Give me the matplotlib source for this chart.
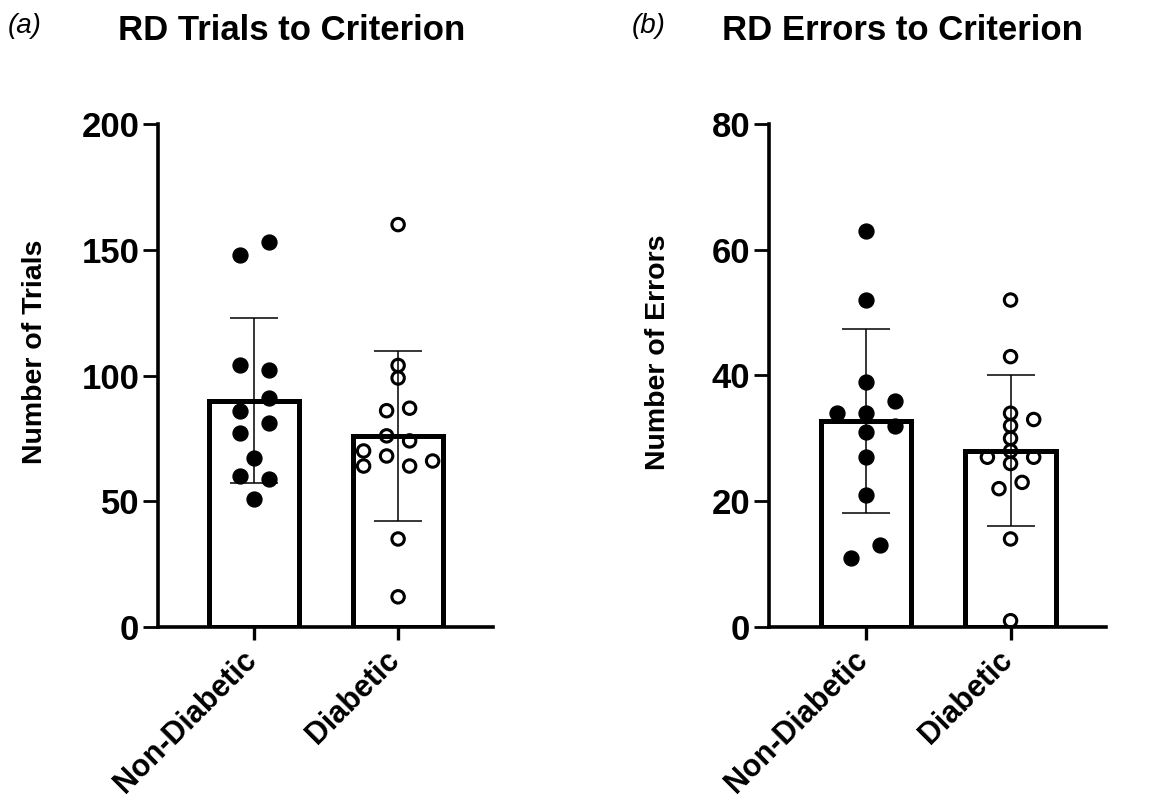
import numpy as np
import matplotlib
matplotlib.use("Agg")
import matplotlib.pyplot as plt
import matplotlib.transforms as mtransforms

plt.rcParams["font.family"] = ["Liberation Sans", "DejaVu Sans"]

groups = ["Non-Diabetic", "Diabetic"]

# (a) trials to criterion, individual animals
trials_nondiab = [148, 153, 104, 102, 91, 86, 81, 77, 67, 60, 59, 51]
trials_diab = [160, 104, 99, 86, 87, 76, 74, 70, 64, 68, 64, 66, 35, 12]

# (b) errors to criterion
errors_nondiab = [63, 52, 39, 36, 34, 34, 32, 31, 27, 21, 13, 11]
errors_diab = [52, 43, 34, 33, 32, 30, 28, 27, 27, 26, 23, 22, 14, 1]

# horizontal scatter of the dots around each bar centre (category units)
jit_trials_nondiab = [-0.1, 0.1, -0.1, 0.1, 0.1, -0.1, 0.1, -0.1, 0, -0.1, 0.1, 0]
jit_trials_diab = [0, 0, 0, -0.08, 0.08, -0.08, 0.08, -0.24, -0.24, -0.08, 0.08, 0.24, 0, 0]
jit_errors_nondiab = [0, 0, 0, 0.2, -0.2, 0, 0.2, 0, 0, 0, 0.1, -0.1]
jit_errors_diab = [0, 0, 0, 0.16, 0, 0, 0, -0.16, 0.16, 0, 0.08, -0.08, 0, 0]


def bar_dot_panel(fig, ax, data, jitters, ymax, yticks):
    x = np.arange(len(data))
    means = [np.mean(d) for d in data]
    sds = [np.std(d, ddof=1) for d in data]

    ax.bar(x, means, width=0.626, color="white", edgecolor="black",
           linewidth=3.6, zorder=2)
    ax.errorbar(x, means, yerr=sds, fmt="none", ecolor="black",
                elinewidth=1.1, capsize=17.5, capthick=1.1, zorder=3)

    # filled dots for non-diabetic, open dots for diabetic
    ax.scatter(x[0] + np.array(jitters[0]), data[0], s=115, color="black",
               zorder=4, clip_on=False)
    ax.scatter(x[1] + np.array(jitters[1]), data[1], s=80, facecolor="none",
               edgecolor="black", linewidth=2.2, zorder=4, clip_on=False)

    ax.set_xlim(-0.67, 1.66)
    ax.set_ylim(0, ymax)
    ax.set_yticks(yticks)
    ax.set_xticks(x)
    ax.set_xticklabels(groups, rotation=45, ha="right")

    for s in ["top", "right"]:
        ax.spines[s].set_visible(False)
    for s in ["left", "bottom"]:
        ax.spines[s].set_linewidth(2.6)
        ax.spines[s].set_zorder(5)

    ax.tick_params(axis="y", length=10.5, width=2.0, pad=3, labelsize=25)
    ax.tick_params(axis="x", length=9.5, width=2.4, pad=5, labelsize=22)
    for lab in ax.get_yticklabels():
        lab.set_fontweight("bold")
    shift = mtransforms.ScaledTranslation(0.08, 0.02, fig.dpi_scale_trans)
    for lab in ax.get_xticklabels():
        lab.set_fontweight("bold")
        lab.set_transform(lab.get_transform() + shift)


fig = plt.figure(figsize=(11.55, 8.05), dpi=100)
W, H = 1155, 805
ax_a = fig.add_axes([158 / W, 1 - 627 / H, 335 / W, 503 / H])
ax_b = fig.add_axes([769 / W, 1 - 627 / H, 337 / W, 503 / H])

bar_dot_panel(fig, ax_a, [trials_nondiab, trials_diab],
              [jit_trials_nondiab, jit_trials_diab], 200, [0, 50, 100, 150, 200])
bar_dot_panel(fig, ax_b, [errors_nondiab, errors_diab],
              [jit_errors_nondiab, jit_errors_diab], 80, [0, 20, 40, 60, 80])

fig.text(35 / W, 1 - 352 / H, "Number of Trials", rotation=90, ha="center",
         va="center", fontsize=20.5, fontweight="bold")
fig.text(658 / W, 1 - 352 / H, "Number of Errors", rotation=90, ha="center",
         va="center", fontsize=20.5, fontweight="bold")

fig.text(118 / W, 1 - 40 / H, "RD Trials to Criterion", ha="left",
         va="baseline", fontsize=25, fontweight="bold")
fig.text(722 / W, 1 - 40 / H, "RD Errors to Criterion", ha="left",
         va="baseline", fontsize=25, fontweight="bold")
fig.text(8 / W, 1 - 33 / H, "(a)", ha="left", va="baseline", fontsize=20,
         style="italic")
fig.text(632 / W, 1 - 33 / H, "(b)", ha="left", va="baseline", fontsize=20,
         style="italic")

fig.savefig("out.png", dpi=100)
